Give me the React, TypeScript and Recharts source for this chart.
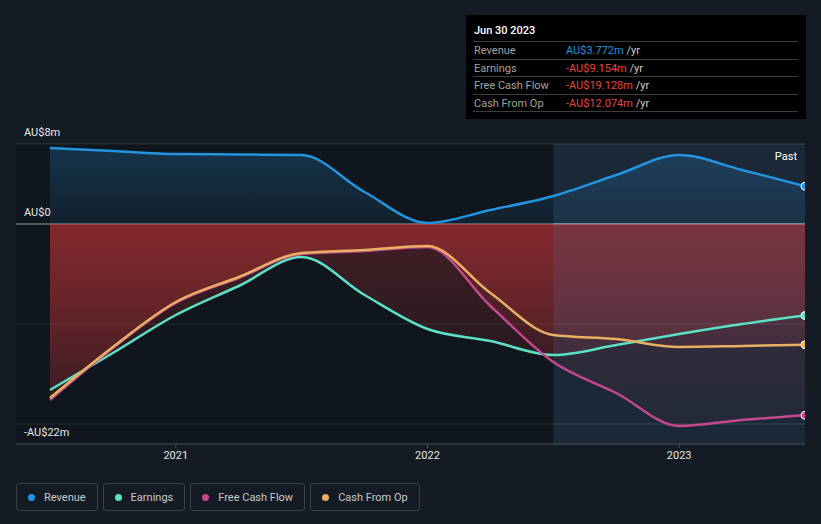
import {
  ComposedChart,
  Area,
  Line,
  XAxis,
  YAxis,
  CartesianGrid,
  ReferenceLine,
  ReferenceArea,
} from "recharts";

// periods as decimal years (quarter ends)
const periods = [
  2020.5, 2020.75, 2021, 2021.25, 2021.5, 2021.75, 2022, 2022.25, 2022.5,
  2022.75, 2023, 2023.25, 2023.5,
];
const revenue = [7.6, 7.3, 7.0, 6.95, 6.9, 3.2, 0.1, 1.4, 2.8, 4.9, 6.9, 5.4, 3.772];
const earnings = [-16.6, -12.9, -9.1, -6.2, -3.3, -7.1, -10.5, -11.7, -13.1, -12.1, -11.0, -10.0, -9.154];
const freeCashFlow = [-17.6, -12.4, -7.9, -5.4, -3.0, -2.7, -2.3, -8.2, -13.8, -16.9, -20.2, -19.6, -19.128];
const cashFromOp = [-17.4, -12.3, -7.8, -5.3, -2.9, -2.6, -2.2, -6.9, -11.1, -11.5, -12.3, -12.2, -12.074];

const yDomain = [-22, 8];
const yearTicks = [2021, 2022, 2023];
const gridValues = [8, -10, -20];
const yLabelValues = [8, 0, -22];
const yLabelTexts = ["AU$8m", "AU$0", "-AU$22m"];
const pastStart = 2022.5;

const tooltipTitle = "Jun 30 2023";
const seriesNames = ["Revenue", "Earnings", "Free Cash Flow", "Cash From Op"];
const tooltipValues = ["AU$3.772m", "-AU$9.154m", "-AU$19.128m", "-AU$12.074m"];

const colors = {
  revenue: "#2394df",
  earnings: "#5ce0c6",
  fcf: "#c4488e",
  cfo: "#e9b062",
};
const seriesColors = [colors.revenue, colors.earnings, colors.fcf, colors.cfo];

const data = periods.map((t, i) => ({
  t,
  revenue: revenue[i],
  earnings: earnings[i],
  fcf: freeCashFlow[i],
  cfo: cashFromOp[i],
}));

const lastIndex = periods.length - 1;

const endDot = (color: string) => (props: any) => {
  const { cx, cy, index } = props;
  if (index !== lastIndex) return <g key={`d${index}`} />;
  return (
    <circle
      key={`d${index}`}
      cx={cx}
      cy={cy}
      r={4}
      fill={color}
      stroke="#ffffff"
      strokeWidth={1}
    />
  );
};

const yLabel = (text: string) => (props: any) => {
  const vb = props.viewBox || {};
  return (
    <text x={24} y={vb.y - 8} fill="#e8e8e8" fontSize={11}>
      {text}
    </text>
  );
};

// map values to pixel rows using the plot offset and the y domain
const rowsFor = (values: number[]) => (args: any) => {
  const off = args.offset || {};
  const top = off.top ?? 144;
  const h = off.height ?? 300;
  return values.map(
    (v) => top + ((yDomain[1] - v) / (yDomain[1] - yDomain[0])) * h
  );
};

export default function App() {
  return (
    <div
      style={{
        position: "absolute",
        left: 0,
        top: 0,
        width: 821,
        height: 524,
        background: "#151b24",
        fontFamily: "Roboto, sans-serif",
        overflow: "hidden",
      }}
    >
      <ComposedChart
        width={821}
        height={474}
        data={data}
        margin={{ top: 144, right: 16, bottom: 0, left: 16 }}
      >
        <defs>
          <linearGradient id="revFill" gradientUnits="userSpaceOnUse" x1="0" y1="144" x2="0" y2="224">
            <stop offset="0" stopColor={colors.revenue} stopOpacity={0.4} />
            <stop offset="1" stopColor={colors.revenue} stopOpacity={0.14} />
          </linearGradient>
          <linearGradient id="negFill" gradientUnits="userSpaceOnUse" x1="0" y1="224" x2="0" y2="444">
            <stop offset="0" stopColor="#cf3538" stopOpacity={0.44} />
            <stop offset="1" stopColor="#cf3538" stopOpacity={0.05} />
          </linearGradient>
        </defs>
        <ReferenceArea
          x1={2020.365}
          x2={pastStart}
          fill="#0b0e13"
          fillOpacity={0.4}
          stroke="none"
        />
        <CartesianGrid
          vertical={false}
          horizontalCoordinatesGenerator={rowsFor(gridValues)}
          stroke="#3a3f47"
        />
        <CartesianGrid
          vertical={false}
          horizontalCoordinatesGenerator={rowsFor([0])}
          stroke="#ffffff"
          strokeWidth={1.2}
        />
        <XAxis
          dataKey="t"
          type="number"
          domain={[2020.365, 2023.5]}
          ticks={yearTicks}
          allowDataOverflow
          height={30}
          tick={{ fill: "#e6e6e6", fontSize: 11 }}
          tickLine={{ stroke: "#4b515b" }}
          tickSize={4}
          tickMargin={3}
          axisLine={{ stroke: "#4b515b" }}
          tickFormatter={(v) => String(v)}
        />
        <YAxis hide type="number" domain={yDomain} allowDataOverflow />
        {yLabelValues.map((v, i) => (
          <ReferenceLine
            key={`l${v}`}
            y={v}
            stroke="none"
            label={yLabel(yLabelTexts[i])}
          />
        ))}
        <Area
          dataKey="revenue"
          type="monotone"
          baseValue={0}
          fill="url(#revFill)"
          stroke="none"
          isAnimationActive={false}
          dot={false}
          activeDot={false}
        />
        <Area
          dataKey="earnings"
          type="monotone"
          baseValue={0}
          fill="url(#negFill)"
          stroke="none"
          isAnimationActive={false}
          dot={false}
          activeDot={false}
        />
        <Area
          dataKey="fcf"
          type="monotone"
          baseValue={0}
          fill="url(#negFill)"
          stroke="none"
          isAnimationActive={false}
          dot={false}
          activeDot={false}
        />
        <Area
          dataKey="cfo"
          type="monotone"
          baseValue={0}
          fill="url(#negFill)"
          stroke="none"
          isAnimationActive={false}
          dot={false}
          activeDot={false}
        />
        <ReferenceArea
          x1={pastStart}
          x2={2023.5}
          fill="#3a7ab0"
          fillOpacity={0.15}
          stroke="none"
          label={{
            value: "Past",
            position: "insideTopRight",
            offset: 8,
            fill: "#ffffff",
            fontSize: 11,
          }}
        />
        <Line
          dataKey="revenue"
          type="monotone"
          stroke={colors.revenue}
          strokeWidth={2.5}
          dot={endDot(colors.revenue)}
          activeDot={false}
          isAnimationActive={false}
        />
        <Line
          dataKey="earnings"
          type="monotone"
          stroke={colors.earnings}
          strokeWidth={2.5}
          dot={endDot(colors.earnings)}
          activeDot={false}
          isAnimationActive={false}
        />
        <Line
          dataKey="fcf"
          type="monotone"
          stroke={colors.fcf}
          strokeWidth={2.5}
          dot={endDot(colors.fcf)}
          activeDot={false}
          isAnimationActive={false}
        />
        <Line
          dataKey="cfo"
          type="monotone"
          stroke={colors.cfo}
          strokeWidth={2.5}
          dot={endDot(colors.cfo)}
          activeDot={false}
          isAnimationActive={false}
        />
      </ComposedChart>

      {/* static tooltip box */}
      <div
        style={{
          position: "absolute",
          left: 466,
          top: 15,
          width: 340,
          height: 104,
          background: "#000000",
          fontSize: 11,
        }}
      >
        <div
          style={{
            position: "absolute",
            left: 8,
            top: 9,
            lineHeight: "14px",
            color: "#ffffff",
            fontWeight: 500,
          }}
        >
          {tooltipTitle}
        </div>
        <div style={{ position: "absolute", left: 7, top: 26, width: 325 }}>
          {seriesNames.map((name, i) => (
            <div
              key={name}
              style={{
                height: 17.5,
                lineHeight: "17px",
                borderTop: "1px solid #3d3d3d",
                boxSizing: "border-box",
                position: "relative",
                color: "#a3a3a3",
              }}
            >
              <span style={{ position: "absolute", left: 1 }}>{name}</span>
              <span style={{ position: "absolute", left: 93 }}>
                <span style={{ color: i === 0 ? colors.revenue : "#e64646" }}>
                  {tooltipValues[i]}
                </span>
                <span style={{ color: "#cfcfcf" }}> /yr</span>
              </span>
            </div>
          ))}
          <div style={{ borderTop: "1px solid #3d3d3d" }} />
        </div>
      </div>

      {/* legend */}
      <div
        style={{
          position: "absolute",
          left: 16,
          top: 483,
          display: "flex",
          gap: 5,
        }}
      >
        {seriesNames.map((name, i) => (
          <div
            key={name}
            style={{
              height: 28,
              boxSizing: "border-box",
              border: "1px solid #3a404a",
              borderRadius: 3,
              padding: "0 11px 0 11px",
              display: "flex",
              alignItems: "center",
              gap: 9,
              color: "#c9c9c9",
              fontSize: 11,
            }}
          >
            <span
              style={{
                width: 7,
                height: 7,
                borderRadius: "50%",
                background: seriesColors[i],
                display: "inline-block",
              }}
            />
            <span>{name}</span>
          </div>
        ))}
      </div>
    </div>
  );
}
